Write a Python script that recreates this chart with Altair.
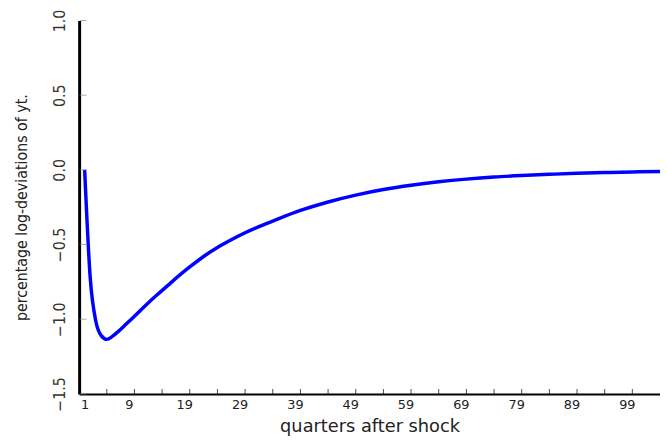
import altair as alt
import pandas as pd

# Impulse response
quarters = [1, 2, 3, 4, 5, 6, 7, 8, 9, 10, 12, 14, 16, 18, 20, 22.5, 25, 27.5, 30, 32.5,
            35, 40, 45, 50, 55, 60, 65, 70, 75, 80, 85, 90, 95, 100, 105]
response = [0.0, -0.72, -1.01, -1.11, -1.135, -1.115, -1.085, -1.05, -1.015, -0.98,
            -0.908, -0.84, -0.775, -0.71, -0.65, -0.58, -0.52, -0.468, -0.421, -0.38,
            -0.343, -0.272, -0.215, -0.169, -0.132, -0.103, -0.080, -0.062, -0.048,
            -0.038, -0.030, -0.023, -0.018, -0.014, -0.011]

y_tick_values = [-1.5, -1.0, -0.5, 0.0, 0.5, 1.0]
x_label_values = [1, 9, 19, 29, 39, 49, 59, 69, 79, 89, 99]
x_tick_values = [5, 10, 15, 20, 25, 30, 35, 40, 45, 50, 55, 60, 65, 70, 75, 80, 85, 90, 95, 100]

x_title = "quarters after shock"
y_title = "percentage log-deviations of yt."

df = pd.DataFrame({"q": quarters, "v": response})
ytk = pd.DataFrame({"v": y_tick_values})
xtk = pd.DataFrame({"q": x_tick_values})

narrow = "Liberation Sans Narrow, DejaVu Sans Condensed, Roboto Condensed, Arial Narrow, sans-serif"
wide = "DejaVu Sans, Verdana, sans-serif"

xscale = alt.Scale(domain=[0, 105], nice=False, zero=False)
yscale = alt.Scale(domain=[-1.5, 1.0], nice=False, zero=False)

xaxis = alt.Axis(
    values=x_label_values, ticks=False, tickSize=0, grid=False,
    domainColor="black", domainWidth=2,
    labelFont=wide, labelFontSize=13, labelColor="#222", labelPadding=5,
    labelBaseline="top", labelAlign="center", labelFlush=False,
    title=x_title, titleFont=wide, titleFontSize=18, titleFontWeight="normal",
    titleColor="#222", titleX=294, titleY=38, titleAlign="center",
    titleBaseline="alphabetic",
)
yaxis = alt.Axis(
    values=y_tick_values, format=".1f", ticks=False, tickSize=0, grid=False,
    domainColor="black", domainWidth=3,
    labelFont=narrow, labelFontSize=16, labelColor="#333", labelAngle=-90,
    labelAlign="center", labelBaseline="bottom", labelPadding=12, labelFlush=False,
    title=y_title, titleFont=narrow, titleFontSize=16, titleFontWeight="normal",
    titleColor="#222", titleAngle=-90, titleX=-58, titleY=189,
    titleAlign="center", titleBaseline="middle",
)

line = alt.Chart(df).mark_line(color="#0000FF", strokeWidth=3.5, interpolate="monotone").encode(
    x=alt.X("q:Q", scale=xscale, axis=xaxis),
    y=alt.Y("v:Q", scale=yscale, axis=yaxis),
)

yticks = alt.Chart(ytk).mark_tick(orient="horizontal", size=7, thickness=1, color="#888", xOffset=4).encode(
    x=alt.datum(0),
    y=alt.Y("v:Q"),
)

xticks = alt.Chart(xtk).mark_tick(orient="vertical", size=5, thickness=1, color="black", yOffset=-2.5).encode(
    x=alt.X("q:Q"),
    y=alt.datum(-1.5),
)

chart = alt.layer(line, yticks, xticks).properties(
    width=588, height=378,
    autosize=alt.AutoSizeParams(type="none"),
    padding={"left": 72, "top": 10, "right": 0, "bottom": 41},
    background="white",
).configure_view(stroke=None)

chart.save("out.html", embed_options={"renderer": "svg", "actions": False})
